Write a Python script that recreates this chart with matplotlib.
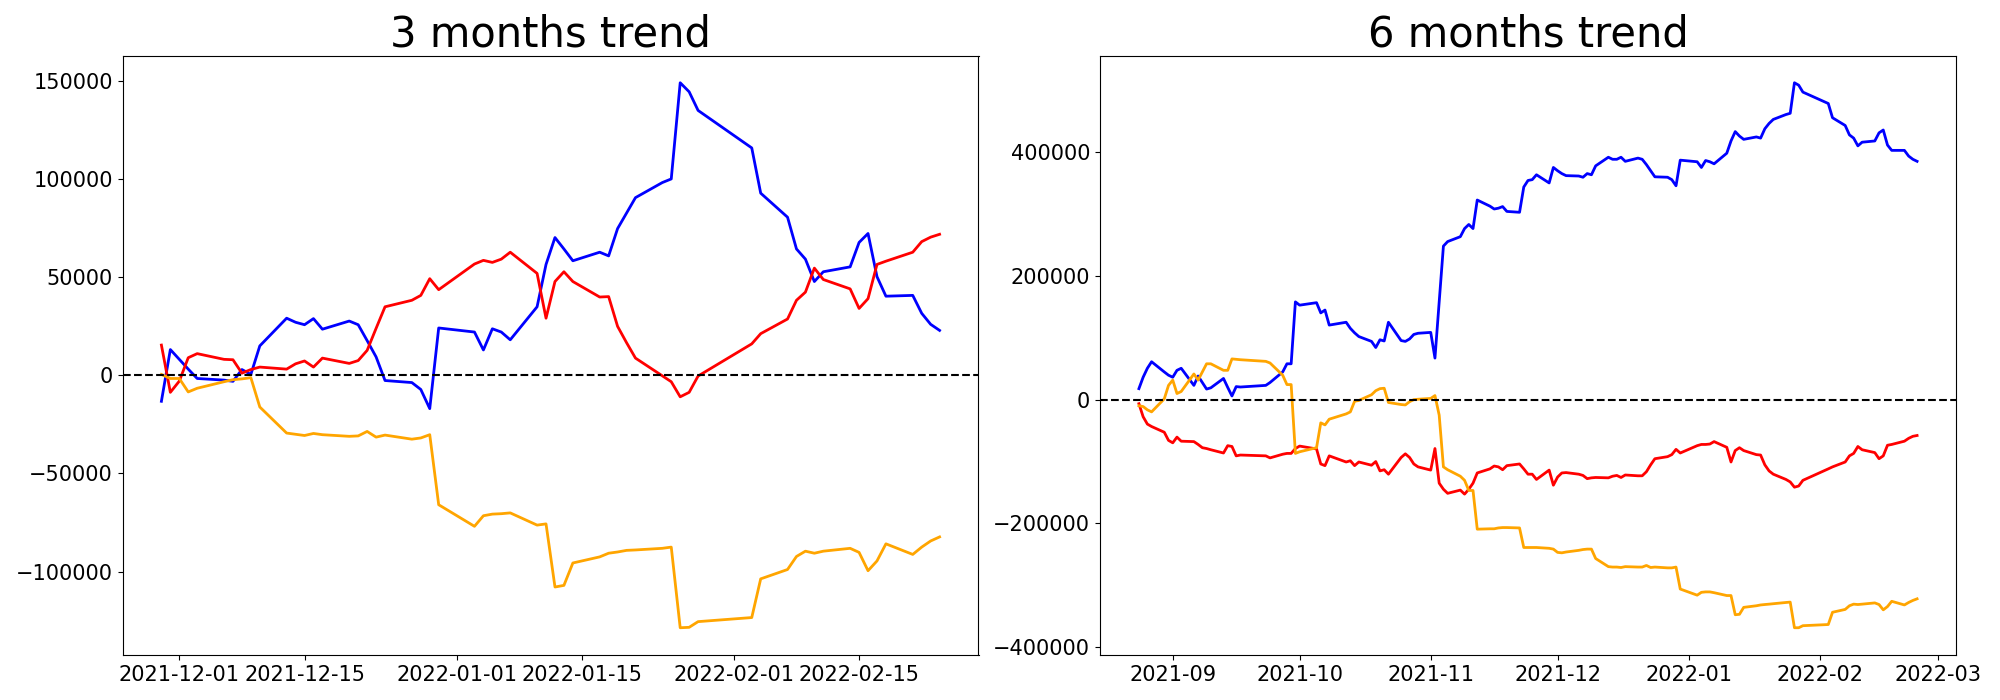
import matplotlib
matplotlib.use("Agg")
import matplotlib.pyplot as plt
import pandas as pd

# Korean exchange holidays inside the plotted period
HOLIDAYS = ["2021-09-20", "2021-09-21", "2021-09-22", "2021-10-04", "2021-10-11",
            "2021-12-31", "2022-01-31", "2022-02-01", "2022-02-02"]


def trading_days(start, end):
    days = pd.bdate_range(start, end)
    return days[~days.isin(pd.to_datetime(HOLIDAYS))]


dates_3m = trading_days("2021-11-29", "2022-02-24")
dates_6m = trading_days("2021-08-24", "2022-02-24")

# ---------------- 3 months ----------------
blue_3m = [-13280, 13070, 8090, 3110, -1660,
           -2490, -3110, 2900, 400, 14940,
           29050, 26980, 25730, 28840, 23450,
           27600, 25730, 17640, 9340, -2700,
           -3740, -7260, -17020, 24070,
           22000, 12870, 23660, 22000, 18050,
           34860, 56440, 70140, 64330, 58310,
           62670, 60800, 74700, 82590, 90470,
           98150, 100000, 149000, 144400, 134900,
           115800, 92750,
           80510, 64330, 59140, 47730, 52710,
           55200, 67650, 72210, 50220, 40260,
           40670, 31540, 25940, 22830]

red_3m = [15360, -8720, -3000, 8920, 11000,
          8090, 7890, 1040, 2900, 4150,
          3110, 5810, 7260, 4150, 8720,
          6020, 7470, 12660, 23860, 34860,
          38180, 40670, 49180, 43580,
          56650, 58520, 57480, 59140, 62670,
          51880, 29050, 47730, 52710, 47730,
          39840, 40050, 24900, 16600, 8720,
          -300, -3320, -11000, -8720, -415,
          15980, 21170,
          28640, 38180, 42330, 54570, 48760,
          43990, 34030, 39010, 56440, 58100,
          62670, 68060, 70340, 71800]

orange_3m = [400, -1660, -1660, -8510, -6640,
             -3320, -2280, -1870, -1250, -16190,
             -29470, -30090, -30710, -29670, -30300,
             -31130, -30920, -28640, -31540, -30500,
             -32580, -31960, -30300, -65990,
             -76980, -71590, -70760, -70550, -70140,
             -76360, -75740, -107900, -107070, -95660,
             -92550, -90680, -90060, -89230, -89020,
             -88190, -87570, -128650, -128440, -125540,
             -123460, -103750,
             -98980, -92340, -89640, -90680, -89640,
             -88190, -90260, -99600, -94620, -85900,
             -91300, -87570, -84450, -82380]

# ---------------- 6 months ----------------
blue_6m = [17760, 36200, 50660, 61190, 44740, 39470,
           36180, 47370, 50660,
           23030, 38160, 27630, 17110, 19080,
           34210, 19740, 5920, 21050, 20390,
           23030, 27630,
           44740, 57900, 57900, 157900,
           152600,
           156600, 140100, 144700, 120400,
           125000, 115100, 107900, 101900,
           94080, 84210, 96710, 94740, 125000,
           95400, 94080, 98030, 105300, 107200,
           108600, 67110, 157900, 248000, 255300,
           263200, 276300, 282900, 276300, 322400,
           312500, 307900, 309200, 311800, 304000,
           302600, 343400, 354000, 355300, 363200,
           350000, 375000,
           369700, 365100, 361800,
           361200, 359200, 365100, 363200, 377600,
           391500, 388200, 388200, 391500, 384900,
           390100, 388200, 379600, 369700, 359900,
           359200, 355300, 345400, 386800,
           384200, 375000, 386200, 384200, 380900,
           398000, 417800, 432900, 425700, 420400,
           424300, 422400, 437500, 446100, 452600,
           460500, 462500, 511800, 507900, 496700,
           478300, 455300,
           442800, 427600, 422400, 409900, 415800,
           417800, 430900, 435500, 411200, 402600,
           402600, 393400, 388200, 384900]

red_6m = [-6580, -27630, -39470, -43420, -52630, -65790,
          -69740, -60530, -67110,
          -67760, -72370, -77630, -78950, -80920,
          -86180, -74340, -75660, -90790, -89470,
          -90790, -94080,
          -88160, -86840, -86840, -78950,
          -75000,
          -79610, -103900, -106600, -90790,
          -100700, -98700, -106600, -100700,
          -105900, -100000, -115100, -113200, -120400,
          -93420, -87500, -93420, -103900, -108600,
          -113800, -78950, -134900, -144700, -151300,
          -146100, -152600, -144700, -134900, -118400,
          -111800, -107200, -108600, -113200, -106600,
          -103900, -111800, -120400, -120400, -128900,
          -113800, -138200,
          -125000, -118400, -117800,
          -120400, -122400, -127600, -126300, -125700,
          -126300, -123700, -122400, -125700, -121700,
          -123000, -123000, -116400, -105300, -95400,
          -92100, -88800, -80260, -86180,
          -74340, -72370, -72370, -71710, -67760,
          -76970, -100700, -82240, -77630, -82240,
          -88820, -89470, -105300, -115100, -120400,
          -128900, -132900, -141400, -139500, -130300,
          -111800, -108600,
          -100700, -90790, -86840, -75660, -80920,
          -85530, -95400, -90790, -73680, -72370,
          -67110, -62500, -59210, -57900]

orange_6m = [-9870, -11180, -16450, -19740, 1320, 23030,
             31580, 9870, 13160,
             41450, 31580, 44740, 57900, 57900,
             47370, 47370, 65790, 65130, 64470,
             61840, 59210,
             39470, 24340, 24340, -86840,
             -84210,
             -77630, -37500, -40790, -31580,
             -23030, -19740, -2630, -1320,
             7890, 14470, 17760, 18420, -4600,
             -7890, -8550, -3290, 0, 660,
             1970, 6580, -25000, -108600, -113200,
             -123700, -130300, -146700, -146700, -209200,
             -208600, -208600, -207200, -206600, -206600,
             -207200, -238800, -238800, -238800, -238800,
             -240100, -241400,
             -246700, -247400, -246100,
             -243400, -242100, -241400, -241400, -256600,
             -269700, -270400, -270400, -271100, -269700,
             -270400, -270400, -267800, -271100, -270400,
             -271700, -271700, -270400, -305900,
             -315800, -311200, -310500, -310500, -311800,
             -316400, -316400, -347400, -346700, -335500,
             -332900, -331600, -330900, -330300, -329600,
             -327600, -327000, -368400, -368400, -365100,
             -363200, -343400,
             -338800, -332900, -330300, -330900, -330300,
             -328300, -330900, -339500, -334200, -325700,
             -331600, -327600, -324300, -321700]

titles = ["3 months trend", "6 months trend"]

fig = plt.figure(figsize=(20, 7), dpi=100)
ax1 = fig.add_axes([0.06125, 0.0643, 0.428, 0.8564])
ax2 = fig.add_axes([0.55, 0.0643, 0.428, 0.8564])

panels = [(ax1, dates_3m, blue_3m, red_3m, orange_3m),
          (ax2, dates_6m, blue_6m, red_6m, orange_6m)]

for (ax, d, b, r, o), t in zip(panels, titles):
    ax.plot(d, b, color="blue", lw=2)
    ax.plot(d, r, color="red", lw=2)
    ax.plot(d, o, color="orange", lw=2)
    ax.axhline(0, color="black", linestyle="--", lw=1.5)
    ax.set_title(t, fontsize=30)
    ax.tick_params(labelsize=15)

fig.savefig("out.png", dpi=100)
